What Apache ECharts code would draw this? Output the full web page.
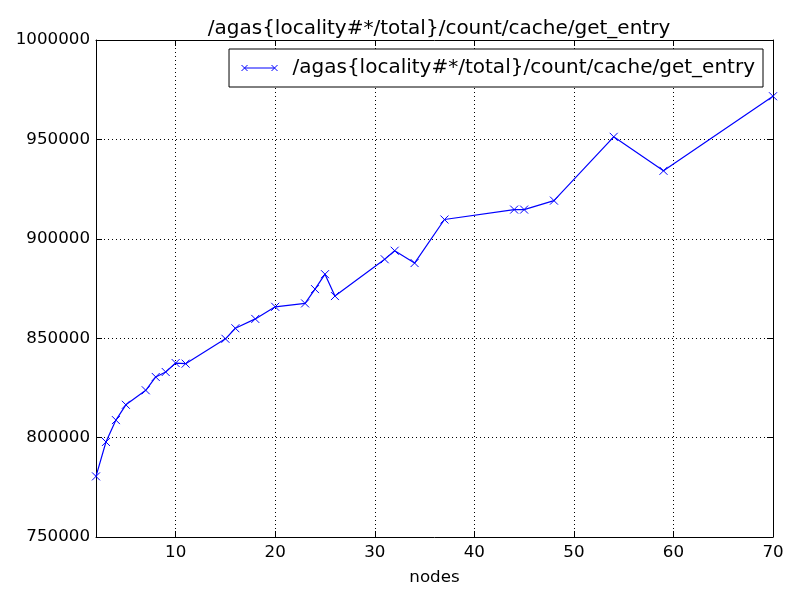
<!DOCTYPE html>
<html><head><meta charset="utf-8">
<script src="https://cdn.jsdelivr.net/npm/echarts@6/dist/echarts.min.js"></script>
<style>html,body{margin:0;padding:0;background:#fff}#c{width:800px;height:600px}</style>
</head><body><div id="c"></div>
<script>
const seriesName = '/agas{locality#*/total}/count/cache/get_entry';
const nodes = [2,3,4,5,7,8,9,10,11,15,16,18,20,23,24,25,26,31,32,34,37,44,45,48,54,59,70];
const values = [780500,797800,808800,816500,823800,830500,833000,837500,837200,849700,855000,859700,865800,867500,874700,882200,871200,889700,894000,887800,909700,914700,914700,919200,951300,934200,971700];
const xTicks = [10,20,30,40,50,60,70];
const yTicks = [750000,800000,850000,900000,950000,1000000];

const font = 'DejaVu Sans';
const fsBig = 20;
const fs = 16.7;
const crossPath = 'path://M0,0L10,10M10,0L0,10';
const legendIcon = 'path://M4,5L44,5M0,1L8,9M8,1L0,9M40,1L48,9M48,1L40,9';
const chart = echarts.init(document.getElementById('c'));
const common = {
  axisLine:{show:true,onZero:false,lineStyle:{color:'#000',width:1}},
};
chart.setOption({
  animation:false,
  backgroundColor:'#fff',
  title:{text:seriesName,left:434,textAlign:'center',top:14,textStyle:{fontFamily:font,fontSize:fsBig,fontWeight:'normal',color:'#000'}},
  legend:{
    data:[{name:seriesName,icon:legendIcon}],
    right:37,top:49,
    orient:'vertical',
    backgroundColor:'#fff',
    borderColor:'#000',borderWidth:1,borderRadius:0,
    padding:[9,8,9,10],
    itemWidth:36,itemHeight:8,itemGap:10,
    itemStyle:{color:'none',borderColor:'#0000ff',borderWidth:1},
    textStyle:{fontFamily:font,fontSize:fsBig,color:'#000',padding:[0,0,0,10]}
  },
  grid:{left:96,right:27,top:40,bottom:63,containLabel:false},
  xAxis:[{
    type:'value',min:2,max:70,
    name:'nodes',nameLocation:'middle',nameGap:32,
    nameTextStyle:{fontFamily:font,fontSize:fs,color:'#000'},
    ...common,
    axisTick:{show:true,inside:true,length:6,lineStyle:{color:'#000'},customValues:xTicks},
    axisLabel:{fontFamily:font,fontSize:fs,color:'#000',margin:7,customValues:xTicks},
    splitLine:{show:true,lineStyle:{color:'#000',type:[1,3],width:1}}
  },{
    type:'value',min:2,max:70,position:'top',
    ...common,
    axisTick:{show:true,inside:true,length:6,lineStyle:{color:'#000'},customValues:xTicks},
    axisLabel:{show:false,customValues:xTicks},
    splitLine:{show:false}
  }],
  yAxis:[{
    type:'value',min:750000,max:1000000,interval:50000,
    ...common,
    axisTick:{show:true,inside:true,length:6,lineStyle:{color:'#000'}},
    axisLabel:{fontFamily:font,fontSize:fs,color:'#000',margin:6,formatter:v=>String(v)},
    splitLine:{show:true,lineStyle:{color:'#000',type:[1,3],width:1}}
  },{
    type:'value',min:750000,max:1000000,interval:50000,position:'right',
    ...common,
    axisTick:{show:true,inside:true,length:6,lineStyle:{color:'#000'}},
    axisLabel:{show:false},
    splitLine:{show:false}
  }],
  series:[{
    name:seriesName,
    type:'line',
    xAxisIndex:0,yAxisIndex:0,
    data:nodes.map((n,i)=>[n,values[i]]),
    symbol:crossPath,symbolSize:8,showAllSymbol:true,
    lineStyle:{color:'#0000ff',width:1.2},
    itemStyle:{color:'none',borderColor:'#0000ff',borderWidth:1},
    emphasis:{disabled:true}
  }]
});
</script></body></html>
